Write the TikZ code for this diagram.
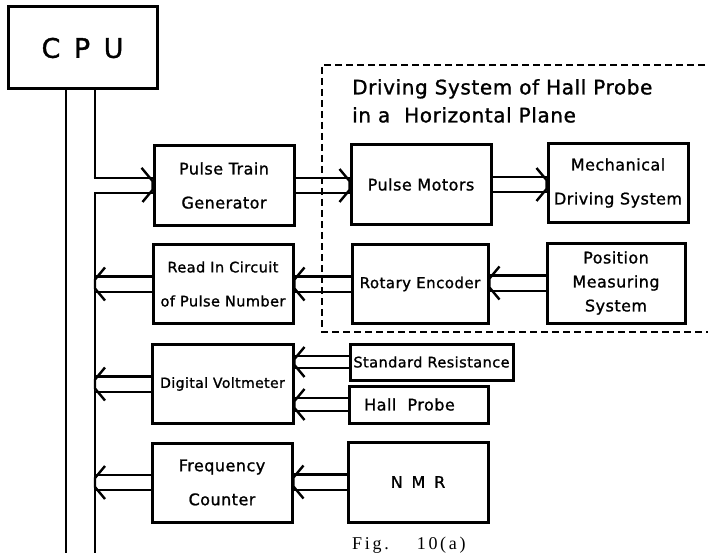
\documentclass[tikz,border=0pt]{standalone}
\usepackage{fontspec}
\usepackage{tikz}
\usetikzlibrary{positioning,decorations.markings}
\newfontfamily\boxfont[LetterSpace=3,FakeBold=1.2]{DejaVu Sans}
\newfontfamily\capfont[LetterSpace=15]{Liberation Serif}

\tikzset{
  blk/.style={draw,line width=3pt,inner sep=0pt,minimum width=140pt,minimum height=79pt,
    align=center,font=\boxfont\fontsize{16}{34}\selectfont},
  bus/.style={line width=2.8pt},
  grp/.style={line width=2.4pt,dash pattern=on 7pt off 4pt},
  hollow/.style={double,double distance=#1,line width=2.4pt,postaction={decorate},
    decoration={markings,mark=at position 1 with {\draw[line width=2.4pt,line join=miter]
      (-10pt,{#1/2+10pt}) -- (0pt,{#1/2-2pt}) -- (0pt,{-#1/2+2pt}) -- (-10pt,{-#1/2-10pt});}}},
  hollow/.default=13pt
}

\begin{document}
\begin{tikzpicture}[x=1pt,y=-1pt]
\useasboundingbox (0,0) rectangle (708,553);
% blocks
\node[blk,minimum width=149pt,minimum height=82pt,font=\boxfont\fontsize{27}{30}\selectfont] (cpu) at (82.5,48) {C\hspace{.5em}P\hspace{.5em}U};
\node[blk] (ptg) at (224,185.5) {Pulse Train\\Generator};
\node[blk] (pm) at (421,184.5) {Pulse Motors};
\node[blk] (mds) at (618,183) {Mechanical\\Driving System};
\node[blk,font=\boxfont\fontsize{14.5}{34}\selectfont] (ric) at (223,284) {Read In Circuit\\of Pulse Number};
\node[blk,minimum width=136pt,font=\boxfont\fontsize{15}{34}\selectfont] (re) at (420,284) {Rotary Encoder};
\node[blk,minimum width=138pt,minimum height=80pt,font=\boxfont\fontsize{16}{24}\selectfont] (pms) at (616,283) {Position\\Measuring\\System};
\node[blk,minimum width=141pt,font=\boxfont\fontsize{14}{34}\selectfont] (dvm) at (222.5,384) {Digital Voltmeter};
\node[blk,minimum width=163pt,minimum height=36pt,font=\boxfont\fontsize{14.5}{20}\selectfont] (sr) at (431.5,362) {Standard Resistance};
\node[blk,minimum width=139pt,minimum height=37pt] (hp) at (418.5,404.5) {Hall\ \ Probe\hspace*{18pt}};
\node[blk] (fc) at (222,482.5) {Frequency\\Counter};
\node[blk,minimum height=80pt] (nmr) at (418,482) {N\hspace{.55em}M\hspace{.55em}R};

% bus of the CPU
\coordinate (busL) at (66,89);
\coordinate (busR) at (95,89);
\coordinate (busLend) at (66,556);
\coordinate (busRend) at (95,556);
\draw[bus] (busL) -- (busLend);
\draw[bus] (busR) -- (busRend);

% data paths
\draw[hollow,shorten <=-1.5pt] (ptg.west -| busR) -- (ptg.west);
\draw[hollow] (ptg.east) -- (ptg.east -| pm.west);
\draw[hollow] (pm.east) -- (pm.east -| mds.west);
\draw[hollow] (pms.west) -- (pms.west -| re.east);
\draw[hollow] (re.west) -- (re.west -| ric.east);
\draw[hollow] (ric.west) -- (ric.west -| busR);
\draw[hollow=10pt] (sr.west) -- (sr.west -| dvm.east);
\draw[hollow=11pt] (hp.west) -- (hp.west -| dvm.east);
\draw[hollow] (dvm.west) -- (dvm.west -| busR);
\draw[hollow] (nmr.west) -- (nmr.west -| fc.east);
\draw[hollow] (fc.west) -- (fc.west -| busR);

% driving system group
\draw[grp] (716,65) -- (322,65) -- (322,332) -- (716,332);
\node[anchor=north west,align=left,inner sep=0pt,font=\boxfont\fontsize{20}{28}\selectfont] (title) at (352,79) {Driving System of Hall Probe\\in a\ \ Horizontal Plane};

\node[anchor=base west,inner sep=0pt,font=\capfont\fontsize{18}{20}\selectfont] (fig) at (352,549) {Fig.\hspace{28pt}10(a)};
\end{tikzpicture}
\end{document}
